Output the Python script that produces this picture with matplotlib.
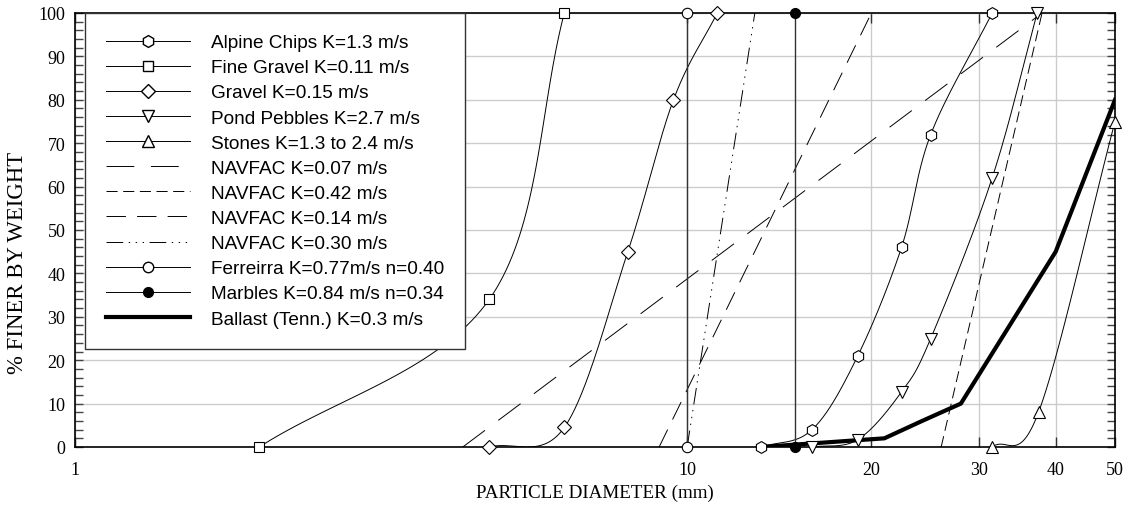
import numpy as np
import matplotlib
matplotlib.use("Agg")
import matplotlib.pyplot as plt
from matplotlib.lines import Line2D
from matplotlib.ticker import FixedLocator, MultipleLocator, FixedFormatter

# grading curves: particle size (mm) vs % finer by weight
alpine_x = [13.2, 16.0, 19.0, 22.4, 25.0, 31.5]
alpine_y = [0, 4, 21, 46, 72, 100]
fine_gravel_x = [2.0, 4.75, 6.3]
fine_gravel_y = [0, 34, 100]
gravel_x = [4.75, 6.3, 8.0, 9.5, 11.2]
gravel_y = [0, 4.5, 45, 80, 100]
pebbles_x = [16.0, 19.0, 22.4, 25.0, 31.5, 37.3]
pebbles_y = [0, 1.7, 12.7, 25, 62, 100]
stones_x = [31.5, 37.5, 50.0]
stones_y = [0, 8, 75]
navfac_007_x = [4.3, 38.0]
navfac_007_y = [0, 100]
navfac_042_x = [26.0, 38.0]
navfac_042_y = [0, 100]
navfac_014_x = [9.0, 20.0]
navfac_014_y = [0, 100]
navfac_030_x = [10.0, 12.9]
navfac_030_y = [0, 100]
ferreirra_x = [10.0, 10.0]
ferreirra_y = [0, 100]
marbles_x = [15.0, 15.0]
marbles_y = [0, 100]
ballast_x = [13.2, 21.0, 24.2, 28.0, 40.0, 50.0]
ballast_y = [0, 2, 6, 10, 45, 80]

x_ticks = [1, 10, 20, 30, 40, 50]
x_ticklabels = ["1", "10", "20", "30", "40", "50"]

SERIF = "Liberation Serif"
SANS = "Liberation Sans"
plt.rcParams["lines.scale_dashes"] = False


def smooth(xs, ys, n=40):
    # Catmull-Rom through the measured points, in log-x space (for drawing only)
    k = 141.0
    pts = np.column_stack([np.log10(xs) * k, np.asarray(ys, float)])
    m = np.zeros_like(pts)
    m[0] = pts[1] - pts[0]
    m[-1] = pts[-1] - pts[-2]
    m[1:-1] = (pts[2:] - pts[:-2]) / 2
    out = [pts[:1]]
    t = np.linspace(0, 1, n)[1:, None]
    h00 = 2 * t**3 - 3 * t**2 + 1
    h10 = t**3 - 2 * t**2 + t
    h01 = -2 * t**3 + 3 * t**2
    h11 = t**3 - t**2
    for i in range(len(pts) - 1):
        out.append(h00 * pts[i] + h10 * m[i] + h01 * pts[i + 1] + h11 * m[i + 1])
    out = np.vstack(out)
    return 10 ** (out[:, 0] / k), out[:, 1]


fig = plt.figure(figsize=(11.32, 5.06), dpi=100)
ax = fig.add_axes([75 / 1132, 58 / 506, 1040 / 1132, 434 / 506])
ax.set_xscale("log")
ax.set_xlim(1, 50)
ax.set_ylim(0, 100)

lw = 0.7
mk = dict(markerfacecolor="white", markeredgecolor="black", markeredgewidth=0.8, linestyle="none", zorder=5, clip_on=False)

curves = [
    (alpine_x, alpine_y, "h", 8.5),
    (fine_gravel_x, fine_gravel_y, "s", 7),
    (gravel_x, gravel_y, "D", 7.5),
    (pebbles_x, pebbles_y, "v", 8.5),
    (stones_x, stones_y, "^", 8.5),
]
for xs, ys, marker, ms in curves:
    sx, sy = smooth(xs, ys)
    ax.plot(sx, sy, color="black", lw=lw, zorder=3)
    ax.plot(xs, ys, marker=marker, markersize=ms, **mk)

dash_007 = (0, (20, 12))
dash_042 = (0, (8, 4))
dash_014 = (0, (14, 8))
dash_030 = (0, (12, 4, 1, 4, 1, 4, 1, 4))
ax.plot(navfac_007_x, navfac_007_y, color="black", lw=lw, ls=dash_007, zorder=3)
ax.plot(navfac_042_x, navfac_042_y, color="black", lw=lw, ls=dash_042, zorder=3)
ax.plot(navfac_014_x, navfac_014_y, color="black", lw=lw, ls=dash_014, zorder=3)
ax.plot(navfac_030_x, navfac_030_y, color="black", lw=lw, ls=dash_030, zorder=3)

ax.plot(ferreirra_x, ferreirra_y, color="#333333", lw=1.0, zorder=3)
ax.plot(ferreirra_x, ferreirra_y, marker="o", markersize=7.5, **mk)
ax.plot(marbles_x, marbles_y, color="#333333", lw=1.0, zorder=3)
ax.plot(marbles_x, marbles_y, marker="o", markersize=7, markerfacecolor="black",
        markeredgecolor="black", linestyle="none", zorder=5, clip_on=False)

ax.plot(ballast_x, ballast_y, color="black", lw=3.0, zorder=4, solid_joinstyle="miter")

# axes, ticks, grid
ax.xaxis.set_major_locator(FixedLocator(x_ticks))
ax.xaxis.set_major_formatter(FixedFormatter(x_ticklabels))
ax.xaxis.set_minor_locator(FixedLocator([]))
ax.yaxis.set_major_locator(MultipleLocator(10))
ax.yaxis.set_minor_locator(MultipleLocator(2))
ax.tick_params(axis="x", which="major", direction="in", length=7, width=1, color="#333333",
               top=True, pad=10, labelsize=13)
ax.tick_params(axis="y", which="both", direction="in", length=6, width=1, color="#444444",
               right=True, pad=7, labelsize=13)
for lab in ax.get_xticklabels() + ax.get_yticklabels():
    lab.set_fontfamily(SERIF)
ax.grid(True, which="major", color="#cccccc", lw=1)
ax.set_axisbelow(True)
for sp in ax.spines.values():
    sp.set_linewidth(1.2)
    sp.set_color("black")

ax.set_xlabel("PARTICLE DIAMETER (mm)", fontfamily=SERIF, fontsize=13.7)
ax.set_ylabel("% FINER BY WEIGHT", fontfamily=SERIF, fontsize=16.4)
ax.xaxis.set_label_coords(0.5, -0.085)
ax.yaxis.set_label_coords(-0.045, 0.426)

# legend
handles = [
    Line2D([], [], color="black", lw=lw, marker="h", markersize=8.5, markerfacecolor="white", markeredgecolor="black"),
    Line2D([], [], color="black", lw=lw, marker="s", markersize=7, markerfacecolor="white", markeredgecolor="black"),
    Line2D([], [], color="black", lw=lw, marker="D", markersize=7.5, markerfacecolor="white", markeredgecolor="black"),
    Line2D([], [], color="black", lw=lw, marker="v", markersize=8.5, markerfacecolor="white", markeredgecolor="black"),
    Line2D([], [], color="black", lw=lw, marker="^", markersize=8.5, markerfacecolor="white", markeredgecolor="black"),
    Line2D([], [], color="black", lw=lw, ls=dash_007),
    Line2D([], [], color="black", lw=lw, ls=dash_042),
    Line2D([], [], color="black", lw=lw, ls=dash_014),
    Line2D([], [], color="black", lw=lw, ls=dash_030),
    Line2D([], [], color="black", lw=lw, marker="o", markersize=7.5, markerfacecolor="white", markeredgecolor="black"),
    Line2D([], [], color="black", lw=lw, marker="o", markersize=7, markerfacecolor="black", markeredgecolor="black"),
    Line2D([], [], color="black", lw=3.0),
]
labels = [
    "Alpine Chips K=1.3 m/s",
    "Fine Gravel K=0.11 m/s",
    "Gravel K=0.15 m/s",
    "Pond Pebbles K=2.7 m/s",
    "Stones K=1.3 to 2.4 m/s",
    "NAVFAC K=0.07 m/s",
    "NAVFAC K=0.42 m/s",
    "NAVFAC K=0.14 m/s",
    "NAVFAC K=0.30 m/s",
    "Ferreirra K=0.77m/s n=0.40",
    "Marbles K=0.84 m/s n=0.34",
    "Ballast (Tenn.) K=0.3 m/s",
]
leg = ax.legend(handles, labels, loc="upper left", bbox_to_anchor=(10 / 1040, 1.0),
                borderaxespad=0, prop={"family": SANS, "size": 13.7}, numpoints=1,
                handlelength=4.4, handletextpad=1.1, labelspacing=0.41, borderpad=1.1,
                fancybox=False, framealpha=1, edgecolor="#333333")
leg.get_frame().set_linewidth(1.0)
leg.set_zorder(10)

fig.savefig("out.png", dpi=100)
